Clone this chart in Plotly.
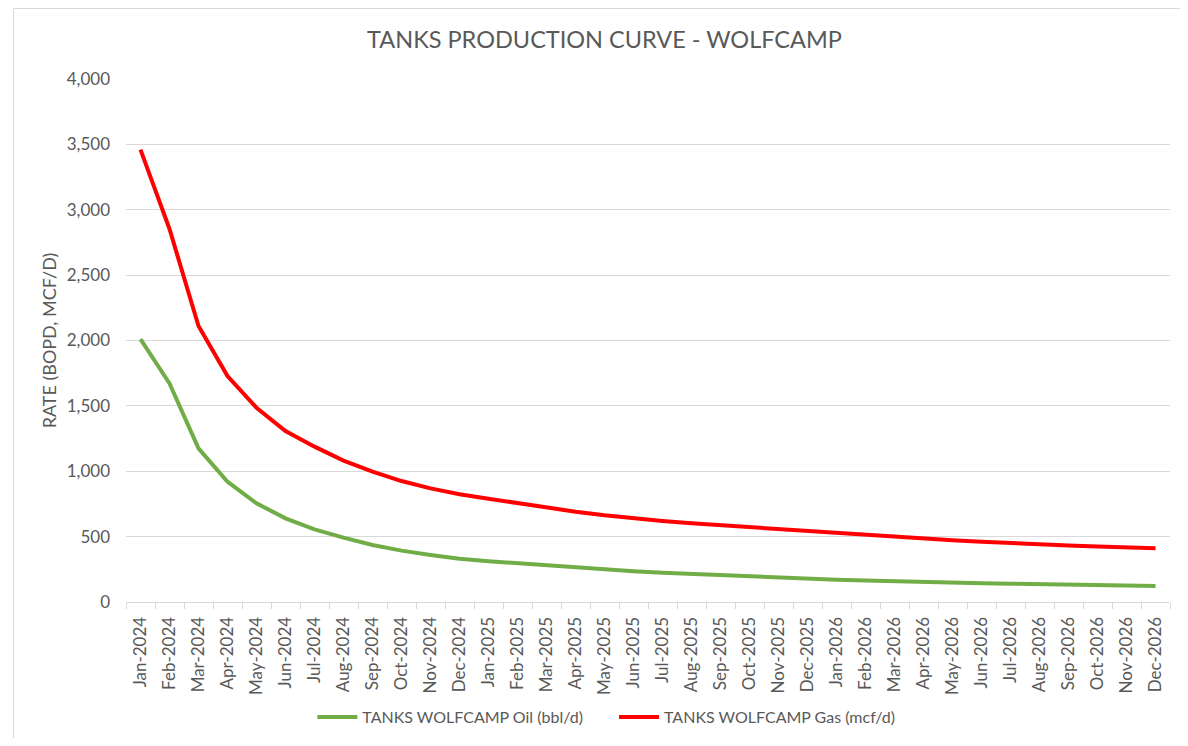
import plotly.graph_objects as go

months = ["Jan-2024","Feb-2024","Mar-2024","Apr-2024","May-2024","Jun-2024","Jul-2024","Aug-2024",
          "Sep-2024","Oct-2024","Nov-2024","Dec-2024","Jan-2025","Feb-2025","Mar-2025","Apr-2025",
          "May-2025","Jun-2025","Jul-2025","Aug-2025","Sep-2025","Oct-2025","Nov-2025","Dec-2025",
          "Jan-2026","Feb-2026","Mar-2026","Apr-2026","May-2026","Jun-2026","Jul-2026","Aug-2026",
          "Sep-2026","Oct-2026","Nov-2026","Dec-2026"]

oil = [2010, 1672, 1175, 920, 755, 640, 556, 492, 436, 393, 360, 330,
       312, 296, 276, 260, 247, 235, 224, 214, 204, 194, 185, 177,
       171, 165, 158, 153, 149, 144, 140, 137, 133, 130, 126, 123]

gas = [3460, 2853, 2111, 1728, 1486, 1308, 1188, 1081, 997, 925, 869, 824,
       790, 755, 721, 691, 663, 640, 620, 602, 587, 571, 556, 540,
       525, 511, 497, 484, 472, 460, 449, 441, 433, 425, 418, 411]

yticks = [0, 500, 1000, 1500, 2000, 2500, 3000, 3500, 4000]

FONT = "Lato"
GRAY = "#595959"

# the page body adds an 8px margin; figure sized so it fits the window
OFF = 8
W, H = 1172, 730
L, R, T, B = 117.5, 9.5, 71, 136
PW, PH = W - L - R, H - T - B


def px_x(ref_x):
    return (ref_x - OFF - L) / PW


def px_y(ref_y):
    return (H - B - (ref_y - OFF)) / PH


fig = go.Figure()
fig.add_trace(go.Scatter(x=months, y=oil, mode="lines", name="TANKS WOLFCAMP Oil (bbl/d)",
                         line=dict(color="#70AD47", width=4), legend="legend"))
fig.add_trace(go.Scatter(x=months, y=gas, mode="lines", name="TANKS WOLFCAMP Gas (mcf/d)",
                         line=dict(color="#FF0000", width=4), legend="legend2"))

leg_common = dict(orientation="h", xanchor="left", yanchor="middle", yref="paper",
                  font=dict(family=FONT, size=16, color=GRAY), itemwidth=40,
                  bgcolor="rgba(0,0,0,0)", borderwidth=0)

fig.update_layout(
    width=W, height=H,
    margin=dict(l=L, r=R, t=T, b=B, autoexpand=False),
    paper_bgcolor="white", plot_bgcolor="white",
    font=dict(family=FONT, color=GRAY, size=17),
    title=dict(text="TANKS PRODUCTION CURVE - WOLFCAMP", x=(604.5 - OFF) / W,
               xanchor="center", y=1 - 32/H, yanchor="middle", yref="container",
               font=dict(family=FONT, size=23.5, color=GRAY)),
    showlegend=True,
    legend=dict(x=px_x(312), y=px_y(717), **leg_common),
    legend2=dict(x=px_x(614), y=px_y(717), **leg_common),
    xaxis=dict(type="category", range=[-0.5, len(months) - 0.5], tickangle=-90,
               tickson="boundaries", ticks="outside",
               ticklen=6, tickcolor="#d9d9d9", showgrid=False, showline=True,
               linecolor="#d9d9d9", linewidth=1, tickfont=dict(size=17, color=GRAY),
               ticklabelstandoff=7, automargin=False, fixedrange=True),
    yaxis=dict(range=[0, 4000], tickvals=yticks, ticktext=[f"{v:,}" for v in yticks],
               showgrid=True, gridcolor="#d9d9d9", gridwidth=1, zeroline=False,
               showline=False, ticks="", tickfont=dict(size=17, color=GRAY),
               ticklabelstandoff=15, automargin=False, fixedrange=True,
               title=dict(text="RATE (BOPD, MCF/D)", standoff=5,
                          font=dict(size=18, color=GRAY))),
    shapes=[dict(type="rect", xref="paper", yref="paper",
                 x0=px_x(13), x1=1.2, y0=-0.6, y1=px_y(OFF + 0.5),
                 line=dict(color="#d9d9d9", width=1), fillcolor="rgba(0,0,0,0)", layer="below")],
)

fig.write_html("out.html")
